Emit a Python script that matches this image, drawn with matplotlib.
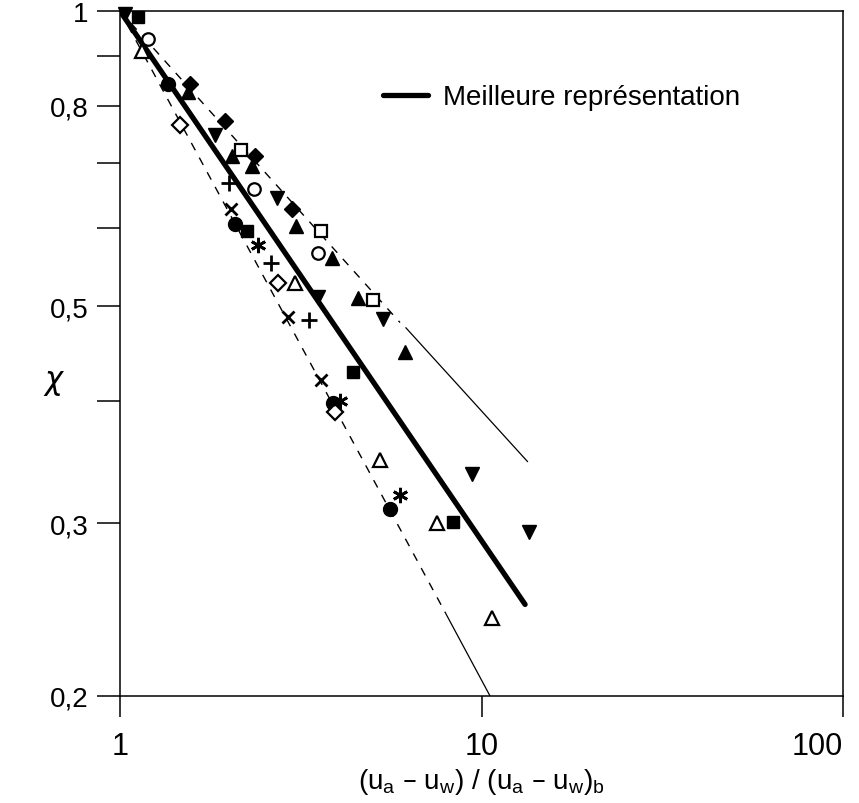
import matplotlib.pyplot as plt
from matplotlib.ticker import FixedLocator, FixedFormatter, NullFormatter, NullLocator

plt.rcParams['font.family'] = ['Liberation Sans', 'DejaVu Sans']

# --- donnees ---
# droites
best_x = [1.0, 13.2]
best_y = [1.0, 0.248]
upper_dash_x = [1.0, 5.95]
upper_dash_y = [1.0, 0.481]
upper_solid_x = [6.18, 13.4]
upper_solid_y = [0.475, 0.347]
lower_dash_x = [1.0, 7.93]
lower_dash_y = [1.0, 0.2435]
lower_solid_x = [7.93, 10.56]
lower_solid_y = [0.2435, 0.2]

# points experimentaux
tri_down_x = [1.032, 1.831, 2.719, 3.529, 5.340, 9.412, 13.53]
tri_down_y = [0.993, 0.747, 0.645, 0.511, 0.485, 0.337, 0.294]
sq_fill_x = [1.121, 2.246, 4.411, 8.341]
sq_fill_y = [0.986, 0.596, 0.428, 0.301]
circ_fill_x = [1.358, 2.080, 3.884, 5.583]
circ_fill_y = [0.842, 0.606, 0.398, 0.310]
tri_up_x = [1.542, 2.040, 2.319, 3.068, 3.859, 4.553, 6.143]
tri_up_y = [0.827, 0.711, 0.695, 0.603, 0.560, 0.510, 0.449]
dia_fill_x = [1.562, 1.951, 2.363, 2.991]
dia_fill_y = [0.842, 0.772, 0.711, 0.628]
sq_open_x = [2.161, 3.597, 5.011]
sq_open_y = [0.721, 0.596, 0.507]
circ_open_x = [1.195, 2.348, 3.529]
circ_open_y = [0.936, 0.658, 0.566]
tri_open_x = [1.150, 3.049, 5.240, 7.532, 10.69]
tri_open_y = [0.910, 0.528, 0.348, 0.300, 0.240]
dia_open_x = [1.466, 2.736, 3.933]
dia_open_y = [0.765, 0.528, 0.390]
cross_x = [2.028, 2.915, 3.597]
cross_y = [0.628, 0.487, 0.420]
plus_x = [2.002, 2.617, 3.333]
plus_y = [0.668, 0.553, 0.484]
star_x = [2.409, 4.061, 5.952]
star_y = [0.577, 0.400, 0.321]

y_major = [0.2, 0.3, 0.5, 0.8, 1.0]
y_major_labels = ['0,2', '0,3', '0,5', '0,8', '1']
y_minor = [0.4, 0.6, 0.7, 0.9]
x_major = [1, 10, 100]
x_major_labels = ['1', '10', '100']

fig = plt.figure(figsize=(8.59, 8.04), dpi=100)
ax = fig.add_axes([120 / 859, 107 / 804, 723 / 859, 685 / 804])
ax.set_xscale('log')
ax.set_yscale('log')
ax.set_xlim(1, 100)
ax.set_ylim(0.2, 1)

# droites
best, = ax.plot(best_x, best_y, color='black', lw=3.8, solid_capstyle='round',
                label='Meilleure représentation')
ax.plot(upper_dash_x, upper_dash_y, color='black', lw=1.0, ls=(0, (6, 6)))
ax.plot(upper_solid_x, upper_solid_y, color='black', lw=0.9)
ax.plot(lower_dash_x, lower_dash_y, color='black', lw=1.0, ls=(0, (6, 6)))
ax.plot(lower_solid_x, lower_solid_y, color='black', lw=0.9)

# marqueurs
k = dict(ls='none', color='black', clip_on=False)
ax.plot(tri_down_x, tri_down_y, marker='v', ms=10, **k)
ax.plot(sq_fill_x, sq_fill_y, marker='s', ms=9, **k)
ax.plot(circ_fill_x, circ_fill_y, marker='o', ms=10, **k)
ax.plot(tri_up_x, tri_up_y, marker='^', ms=10, **k)
ax.plot(dia_fill_x, dia_fill_y, marker='D', ms=8, **k)
ax.plot(sq_open_x, sq_open_y, marker='s', ms=9, mfc='white', mew=1.6, **k)
ax.plot(circ_open_x, circ_open_y, marker='o', ms=9, mfc='white', mew=1.6, **k)
ax.plot(tri_open_x, tri_open_y, marker='^', ms=10, mfc='white', mew=1.6, **k)
ax.plot(dia_open_x, dia_open_y, marker='D', ms=8, mfc='white', mew=1.6, **k)
ax.plot(cross_x, cross_y, marker='x', ms=9, mew=2, **k)
ax.plot(plus_x, plus_y, marker='+', ms=11, mew=2, **k)
ax.plot(star_x, star_y, marker=(6, 2, 0), ms=11, mew=2, **k)

# axes
ax.yaxis.set_major_locator(FixedLocator(y_major))
ax.yaxis.set_major_formatter(FixedFormatter(y_major_labels))
ax.yaxis.set_minor_locator(FixedLocator(y_minor))
ax.yaxis.set_minor_formatter(NullFormatter())
ax.xaxis.set_major_locator(FixedLocator(x_major))
ax.xaxis.set_major_formatter(FixedFormatter(x_major_labels))
ax.xaxis.set_minor_locator(NullLocator())

ax.tick_params(axis='y', which='both', direction='out', length=16.5, width=1.1,
               labelsize=20, pad=6)
ax.tick_params(axis='x', which='major', direction='out', length=15, width=1.1,
               labelsize=22, pad=10)
for lab in ax.get_xticklabels():
    lab.set_family(['Liberation Sans Narrow', 'Liberation Sans'])
ax.get_xticklabels()[-1].set_horizontalalignment('right')
for s in ax.spines.values():
    s.set_linewidth(1.1)

ax.set_xlabel(r'(u$_\mathregular{a}$ – u$_\mathregular{w}$) / (u$_\mathregular{a}$ – u$_\mathregular{w}$)$_\mathregular{b}$',
              fontsize=20, family=['Liberation Sans Narrow', 'Liberation Sans'], labelpad=4)
fig.text(54 / 859, 1 - 383 / 804, r'$\chi$', fontsize=22, ha='center', va='center')

ax.legend(handles=[best], loc='center left', bbox_to_anchor=(0.364, 0.874),
          frameon=False, fontsize=20, handlelength=1.6, handletextpad=0.55,
          borderpad=0, borderaxespad=0)

fig.savefig('out.png', dpi=100)
